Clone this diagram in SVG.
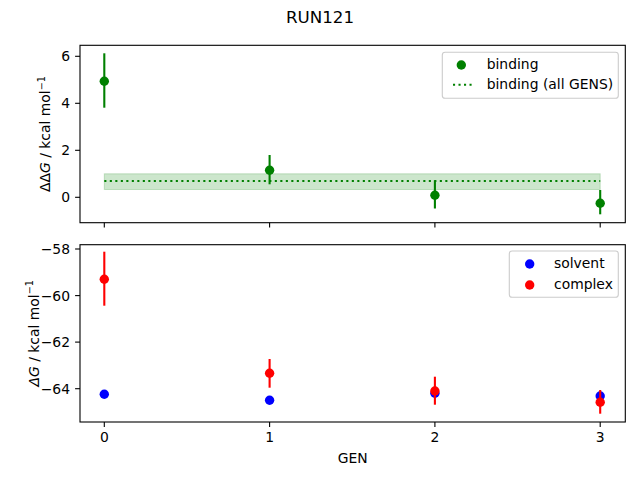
<svg xmlns="http://www.w3.org/2000/svg" width="640" height="480" viewBox="0 0 640 480">
<style>
text{font-family:"DejaVu Sans","Liberation Sans",sans-serif;fill:#000;font-size:13.9px}
.spine{fill:none;stroke:#000;stroke-width:1.1}
.tick{stroke:#000;stroke-width:1.1}
.yt{text-anchor:end}
.xt{text-anchor:middle}
.eg{stroke:#008000;stroke-width:2.1}
.er{stroke:#ff0000;stroke-width:2.1}
.g{fill:#008000}
.b{fill:#0000ff}
.r{fill:#ff0000}
.leg{fill:#fff;fill-opacity:0.8;stroke:#cccccc;stroke-width:1.1}
</style>
<rect width="640" height="480" fill="#fff"/>
<text x="320" y="22.7" text-anchor="middle" style="font-size:16.7px">RUN121</text>

<g id="top-axes">
<rect x="104.3" y="173.8" width="495.9" height="15.7" fill="#008000" fill-opacity="0.2" stroke="#008000" stroke-opacity="0.2" stroke-width="1"/>
<line x1="104.3" y1="181" x2="600.2" y2="181" stroke="#008000" stroke-width="2.1" stroke-dasharray="2.1,3.4"/>
<g id="binding">
<line class="eg" x1="104.3" y1="53.3" x2="104.3" y2="107.7"/>
<line class="eg" x1="269.6" y1="155" x2="269.6" y2="184.3"/>
<line class="eg" x1="434.9" y1="180.3" x2="434.9" y2="208.5"/>
<line class="eg" x1="600.2" y1="190" x2="600.2" y2="214.3"/>
<circle class="g" cx="104.3" cy="81.3" r="4.7"/>
<circle class="g" cx="269.6" cy="170.3" r="4.7"/>
<circle class="g" cx="434.9" cy="195.3" r="4.7"/>
<circle class="g" cx="600.2" cy="203.3" r="4.7"/>
</g>
<rect class="spine" x="80" y="45.3" width="545.3" height="177.4"/>
<g class="tick">
<line x1="104.3" y1="222.7" x2="104.3" y2="227.6"/>
<line x1="269.6" y1="222.7" x2="269.6" y2="227.6"/>
<line x1="434.9" y1="222.7" x2="434.9" y2="227.6"/>
<line x1="600.2" y1="222.7" x2="600.2" y2="227.6"/>
<line x1="75.1" y1="56.3" x2="80" y2="56.3"/>
<line x1="75.1" y1="103.3" x2="80" y2="103.3"/>
<line x1="75.1" y1="150.3" x2="80" y2="150.3"/>
<line x1="75.1" y1="197.3" x2="80" y2="197.3"/>
</g>
<text class="yt" x="70" y="61.3">6</text>
<text class="yt" x="70" y="108.3">4</text>
<text class="yt" x="70" y="155.3">2</text>
<text class="yt" x="70" y="202.3">0</text>
<text transform="translate(50,134) rotate(-90)" text-anchor="middle">ΔΔ<tspan font-style="italic">G</tspan> / kcal mol<tspan dy="-5.5" style="font-size:9.7px">−1</tspan></text>
<g id="legend-top">
<rect class="leg" x="442.3" y="52.3" width="176" height="46" rx="2.8"/>
<circle class="g" cx="461.3" cy="65" r="4.7"/>
<text x="486.7" y="69">binding</text>
<line x1="453" y1="84.7" x2="474" y2="84.7" stroke="#008000" stroke-width="2.1" stroke-dasharray="2.1,3.4"/>
<text x="486.7" y="88.7">binding (all GENS)</text>
</g>
</g>

<g id="bottom-axes">
<g id="solvent">
<circle class="b" cx="104.3" cy="394.3" r="4.7"/>
<circle class="b" cx="269.6" cy="400.3" r="4.7"/>
<circle class="b" cx="434.9" cy="393.3" r="4.7"/>
<circle class="b" cx="600.2" cy="396" r="4.7"/>
</g>
<g id="complex">
<line class="er" x1="104.3" y1="251.7" x2="104.3" y2="305.7"/>
<line class="er" x1="269.6" y1="359" x2="269.6" y2="387.7"/>
<line class="er" x1="434.9" y1="376.7" x2="434.9" y2="404.7"/>
<line class="er" x1="600.2" y1="390" x2="600.2" y2="413.7"/>
<circle class="r" cx="104.3" cy="279.3" r="4.7"/>
<circle class="r" cx="269.6" cy="373.3" r="4.7"/>
<circle class="r" cx="434.9" cy="391" r="4.7"/>
<circle class="r" cx="600.2" cy="402.3" r="4.7"/>
</g>
<rect class="spine" x="80" y="244.7" width="545.3" height="177.3"/>
<g class="tick">
<line x1="104.3" y1="422" x2="104.3" y2="426.9"/>
<line x1="269.6" y1="422" x2="269.6" y2="426.9"/>
<line x1="434.9" y1="422" x2="434.9" y2="426.9"/>
<line x1="600.2" y1="422" x2="600.2" y2="426.9"/>
<line x1="75.1" y1="249" x2="80" y2="249"/>
<line x1="75.1" y1="295.6" x2="80" y2="295.6"/>
<line x1="75.1" y1="342.1" x2="80" y2="342.1"/>
<line x1="75.1" y1="388.7" x2="80" y2="388.7"/>
</g>
<text class="yt" x="70" y="254">−58</text>
<text class="yt" x="70" y="300.6">−60</text>
<text class="yt" x="70" y="347.1">−62</text>
<text class="yt" x="70" y="393.7">−64</text>
<text class="xt" x="104.3" y="442">0</text>
<text class="xt" x="269.6" y="442">1</text>
<text class="xt" x="434.9" y="442">2</text>
<text class="xt" x="600.2" y="442">3</text>
<text x="352.6" y="462.5" text-anchor="middle">GEN</text>
<text transform="translate(38.5,333.3) rotate(-90)" text-anchor="middle"><tspan font-style="italic">Δ</tspan><tspan font-style="italic">G</tspan> / kcal mol<tspan dy="-5.5" style="font-size:9.7px">−1</tspan></text>
<g id="legend-bottom">
<rect class="leg" x="509.3" y="251" width="109" height="46.3" rx="2.8"/>
<circle class="b" cx="529.7" cy="264" r="4.7"/>
<text x="554" y="267.7">solvent</text>
<circle class="r" cx="529.7" cy="285" r="4.7"/>
<text x="554" y="288.7">complex</text>
</g>
</g>
</svg>
